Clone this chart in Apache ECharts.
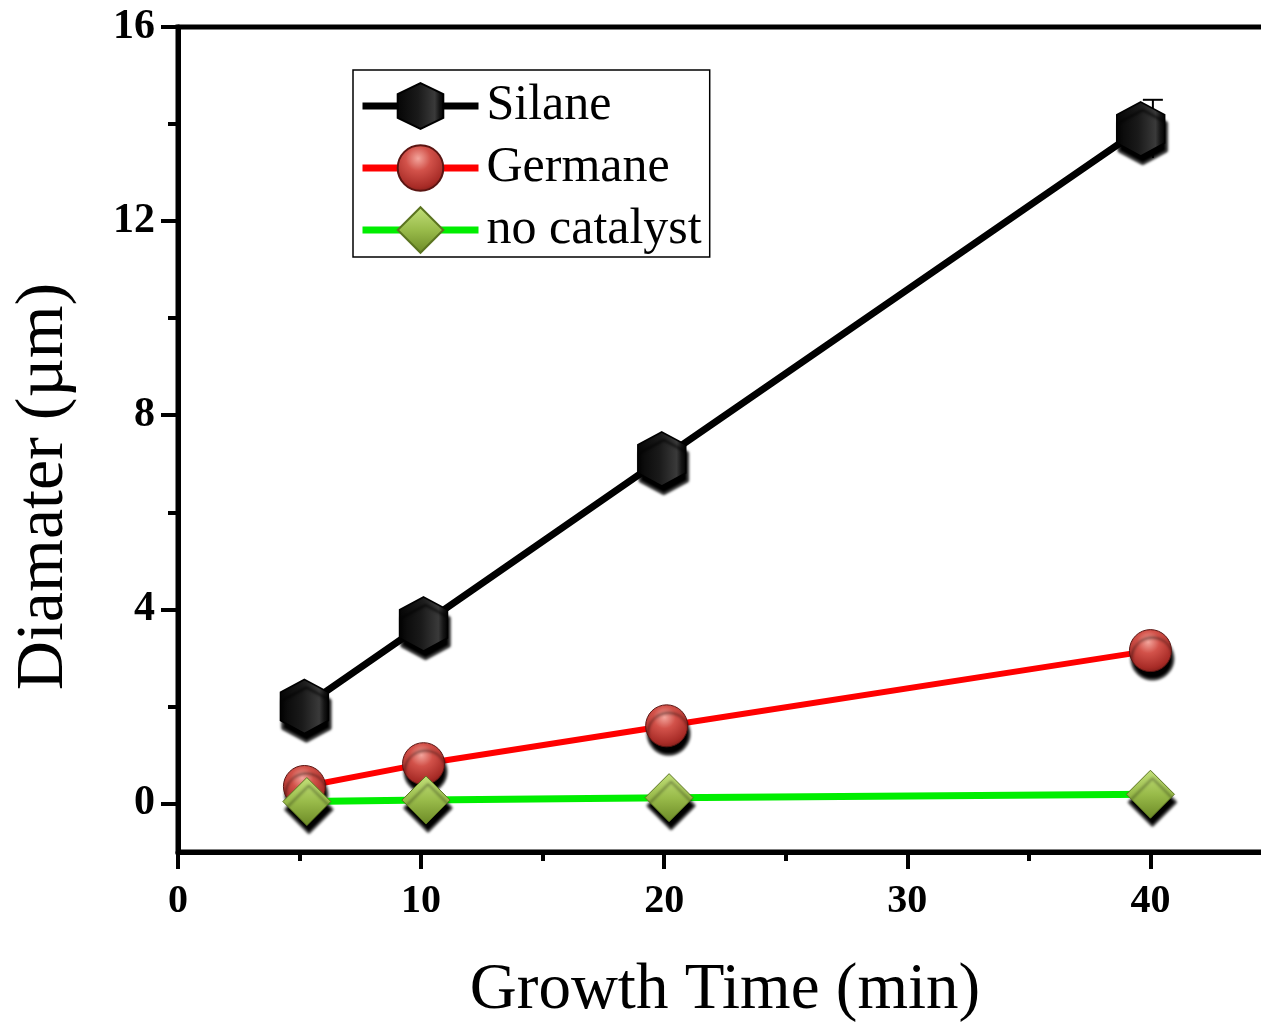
<!DOCTYPE html>
<html>
<head>
<meta charset="utf-8">
<script src="https://cdn.jsdelivr.net/npm/echarts@6/dist/echarts.min.js"></script>
<style>
  html, body { margin: 0; padding: 0; background: #fff; }
  #chart { width: 1261px; height: 1023px; }
</style>
</head>
<body>
<div id="chart"></div>
<script>
// Growth time (min) and measured diameters (µm) for each precursor
const silaneTime = [5.2, 10.1, 19.9, 39.6];
const silaneDiam = [2.0, 3.7, 7.1, 13.9];
const germaneTime = [5.2, 10.1, 20.1, 40.0];
const germaneDiam = [0.35, 0.82, 1.6, 3.15];
const noCatTime = [5.3, 10.2, 20.2, 40.0];
const noCatDiam = [0.04, 0.07, 0.12, 0.19];
// Error bar on the longest silane run: [time, low, high]
const silaneErr = [[40.1, 13.3, 14.5]];

const yMajorTicks = [0, 4, 8, 12, 16];
const yMinorTicks = [2, 6, 10, 14];

const serif = '"Liberation Serif", "Times New Roman", serif';
const zip = (xs, ys) => xs.map((x, i) => [x, ys[i]]);

const hexagon = 'path://M50 0 L93 24 L93 76 L50 100 L7 76 L7 24 Z';

const dropShadow = { shadowColor: 'rgba(0,0,0,1)', shadowBlur: 3, shadowOffsetX: 2, shadowOffsetY: 8 };

const chart = echarts.init(document.getElementById('chart'), null, { renderer: 'canvas' });

chart.setOption({
  animation: false,
  backgroundColor: '#fff',
  grid: {
    left: 178, top: 27, right: -11, bottom: 171,
    outerBoundsMode: 'none',
    show: true, borderColor: '#000', borderWidth: 5, backgroundColor: 'transparent'
  },
  legend: {
    left: 353, top: 70,
    orient: 'vertical',
    backgroundColor: '#fff',
    borderColor: '#000', borderWidth: 1.5,
    padding: [11, 8, 2, 6],
    itemGap: 12,
    itemWidth: 116, itemHeight: 57,
    lineStyle: { width: 7 },
    textStyle: { fontFamily: serif, fontSize: 50, color: '#000', padding: [0, 0, 0, 3] },
    data: ['Silane', 'Germane', 'no catalyst']
  },
  xAxis: {
    type: 'value', min: 0, max: 45, interval: 10,
    name: 'Growth Time (min)', nameLocation: 'middle', nameGap: 106,
    nameTextStyle: { fontFamily: serif, fontSize: 65, color: '#000' },
    axisLine: { show: true, onZero: false, lineStyle: { color: '#000', width: 5 } },
    axisTick: { show: true, inside: false, length: 17, lineStyle: { color: '#000', width: 4 } },
    minorTick: { show: true, splitNumber: 2, length: 9, lineStyle: { color: '#000', width: 4 } },
    axisLabel: {
      fontFamily: serif, fontSize: 40, fontWeight: 'bold', color: '#000', margin: 30,
      showMaxLabel: false
    },
    splitLine: { show: false }
  },
  yAxis: [
    {
      type: 'value', min: -1, max: 16,
      name: 'Diamater (µm)', nameLocation: 'middle', nameGap: 100,
      nameTextStyle: { fontFamily: serif, fontSize: 68, color: '#000', padding: [0, 94, 0, 0] },
      axisLine: { show: true, onZero: false, lineStyle: { color: '#000', width: 5 } },
      axisTick: { show: true, inside: false, length: 17, customValues: yMajorTicks, lineStyle: { color: '#000', width: 4 } },
      axisLabel: {
        fontFamily: serif, fontSize: 42, fontWeight: 'bold', color: '#000', margin: 23,
        customValues: yMajorTicks
      },
      splitLine: { show: false }
    },
    {
      // minor ticks drawn on the same left edge
      type: 'value', min: -1, max: 16, position: 'left',
      axisLine: { show: false },
      axisTick: { show: true, inside: false, length: 10, customValues: yMinorTicks, lineStyle: { color: '#000', width: 4 } },
      axisLabel: { show: false, customValues: yMinorTicks },
      splitLine: { show: false }
    }
  ],
  series: [
    {
      name: 'Silane error', type: 'custom', z: 3,
      data: silaneErr,
      renderItem: function (params, api) {
        const x = api.value(0);
        const lo = api.coord([x, api.value(1)]);
        const hi = api.coord([x, api.value(2)]);
        const half = 10;
        return {
          type: 'group',
          children: [
            { type: 'line', shape: { x1: lo[0], y1: lo[1], x2: hi[0], y2: hi[1] }, style: { stroke: '#000', lineWidth: 2 } },
            { type: 'line', shape: { x1: hi[0] - half, y1: hi[1], x2: hi[0] + half, y2: hi[1] }, style: { stroke: '#000', lineWidth: 2 } }
          ]
        };
      }
    },
    {
      name: 'Silane', type: 'line', z: 4,
      data: zip(silaneTime, silaneDiam),
      symbol: hexagon, symbolSize: [48, 54],
      lineStyle: { color: '#000', width: 7 },
      itemStyle: Object.assign({
        color: new echarts.graphic.LinearGradient(0, 0, 1, 0, [
          { offset: 0, color: '#050505' },
          { offset: 0.45, color: '#1a1a1a' },
          { offset: 0.8, color: '#3a3a3a' },
          { offset: 0.9, color: '#151515' },
          { offset: 1, color: '#000' }
        ]),
        borderColor: '#000', borderWidth: 1.5
      }, dropShadow)
    },
    {
      name: 'Germane', type: 'line', z: 5,
      data: zip(germaneTime, germaneDiam),
      symbol: 'circle', symbolSize: 42,
      lineStyle: { color: '#ff0000', width: 6 },
      itemStyle: Object.assign({
        color: new echarts.graphic.RadialGradient(0.45, 0.3, 0.75, [
          { offset: 0, color: '#f3a59c' },
          { offset: 0.35, color: '#d2524a' },
          { offset: 0.8, color: '#a82c27' },
          { offset: 1, color: '#7a1a16' }
        ]),
        borderColor: '#5a1512', borderWidth: 1
      }, dropShadow)
    },
    {
      name: 'no catalyst', type: 'line', z: 6,
      data: zip(noCatTime, noCatDiam),
      symbol: 'diamond', symbolSize: [48, 48],
      lineStyle: { color: '#00ee00', width: 7 },
      itemStyle: Object.assign({
        color: new echarts.graphic.LinearGradient(0, 0, 0, 1, [
          { offset: 0, color: '#c2e07a' },
          { offset: 0.5, color: '#99bb4a' },
          { offset: 1, color: '#6c8a26' }
        ]),
        borderColor: '#5b7420', borderWidth: 1
      }, dropShadow)
    }
  ]
});
</script>
</body>
</html>
